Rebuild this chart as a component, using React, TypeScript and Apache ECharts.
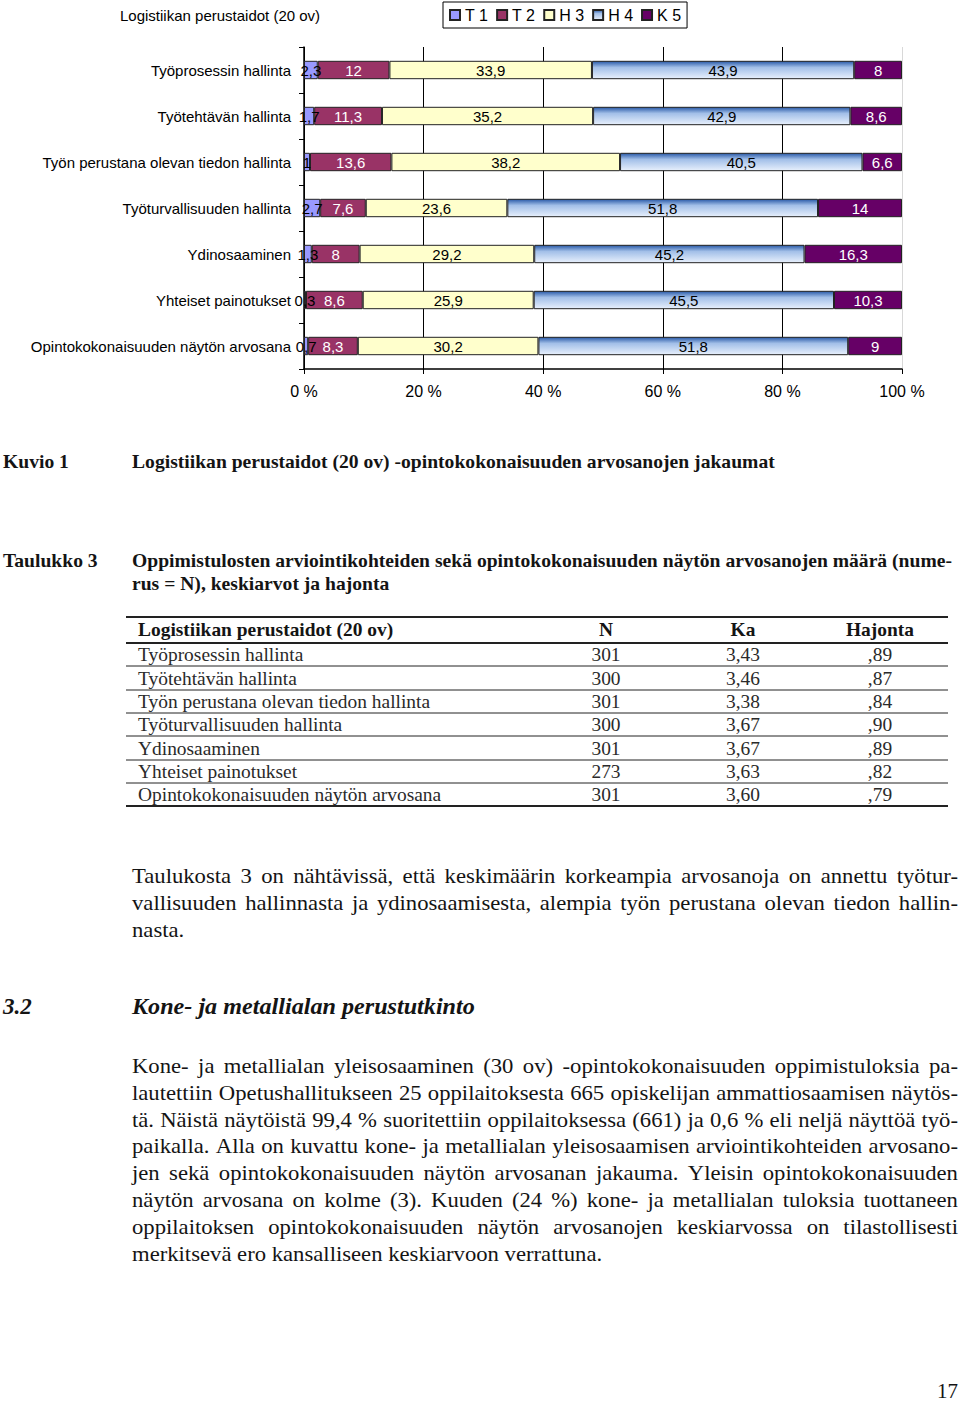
import React, { useEffect, useRef } from "react";
import * as echarts from "echarts";

// ---------- Chart data ----------
const chartTitle = "Logistiikan perustaidot (20 ov)";
const categories = [
  "Työprosessin hallinta",
  "Työtehtävän hallinta",
  "Työn perustana olevan tiedon hallinta",
  "Työturvallisuuden hallinta",
  "Ydinosaaminen",
  "Yhteiset painotukset",
  "Opintokokonaisuuden näytön arvosana",
];
const seriesNames = ["T 1", "T 2", "H 3", "H 4", "K 5"];
const t1 = [2.3, 1.7, 1, 2.7, 1.3, 0.3, 0.7];
const t2 = [12, 11.3, 13.6, 7.6, 8, 8.6, 8.3];
const h3 = [33.9, 35.2, 38.2, 23.6, 29.2, 25.9, 30.2];
const h4 = [43.9, 42.9, 40.5, 51.8, 45.2, 45.5, 51.8];
const k5 = [8, 8.6, 6.6, 14, 16.3, 10.3, 9];

// ---------- Table data ----------
const tableHeader = ["Logistiikan perustaidot (20 ov)", "N", "Ka", "Hajonta"];
const tableN = ["301", "300", "301", "300", "301", "273", "301"];
const tableKa = ["3,43", "3,46", "3,38", "3,67", "3,67", "3,63", "3,60"];
const tableHajonta = [",89", ",87", ",84", ",90", ",89", ",82", ",79"];

// ---------- Document text ----------
const kuvioLabel = "Kuvio 1";
const kuvioText = "Logistiikan perustaidot (20 ov) -opintokokonaisuuden arvosanojen jakaumat";
const taulukkoLabel = "Taulukko 3";
const taulukkoLines = [
  "Oppimistulosten arviointikohteiden sekä opintokokonaisuuden näytön arvosanojen määrä (nume-",
  "rus = N), keskiarvot ja hajonta",
];
const para1Lines = [
  "Taulukosta 3 on nähtävissä, että keskimäärin korkeampia arvosanoja on annettu työtur-",
  "vallisuuden hallinnasta ja ydinosaamisesta, alempia työn perustana olevan tiedon hallin-",
  "nasta.",
];
const sectionNo = "3.2";
const sectionTitle = "Kone- ja metallialan perustutkinto";
const para2Lines = [
  "Kone- ja metallialan yleisosaaminen (30 ov) -opintokokonaisuuden oppimistuloksia pa-",
  "lautettiin Opetushallitukseen 25 oppilaitoksesta 665 opiskelijan ammattiosaamisen näytös-",
  "tä. Näistä näytöistä 99,4 % suoritettiin oppilaitoksessa (661) ja 0,6 % eli neljä näyttöä työ-",
  "paikalla. Alla on kuvattu kone- ja metallialan yleisosaamisen arviointikohteiden arvosano-",
  "jen sekä opintokokonaisuuden näytön arvosanan jakauma. Yleisin opintokokonaisuuden",
  "näytön arvosana on kolme (3). Kuuden (24 %) kone- ja metallialan tuloksia tuottaneen",
  "oppilaitoksen opintokokonaisuuden näytön arvosanojen keskiarvossa on tilastollisesti",
  "merkitsevä ero kansalliseen keskiarvoon verrattuna.",
];
const pageNumber = "17";

const SANS = '"Liberation Sans", Arial, sans-serif';
const SERIF = '"Liberation Serif", "Times New Roman", serif';
const INK = "#141414";

function fmt(v: number) {
  return String(v).replace(".", ",");
}

export default function App() {
  const ref = useRef<HTMLDivElement>(null);

  useEffect(() => {
    if (!ref.current) return;
    const chart = echarts.init(ref.current, undefined, { renderer: "svg" });

    const canvas = document.createElement("canvas");
    const ctx = canvas.getContext("2d")!;
    const measure = (t: string, font: string) => {
      ctx.font = font;
      return ctx.measureText(t).width;
    };

    const textEl = (text: string, x: number, y: number, font: string, align = "left", fill = INK, scaleX = 1) => ({
      type: "text",
      x,
      y,
      scaleX,
      silent: true,
      style: { text, font, fill, align, verticalAlign: "middle" },
    });

    const lineEls = (
      text: string, x0: number, x1: number, y: number, font: string, justify: boolean, s0: number, fill = INK
    ) => {
      if (!justify) return [textEl(text, x0, y, font, "left", fill, s0)];
      const words = text.split(" ");
      const widths = words.map((w) => measure(w, font));
      const sum = widths.reduce((a, b) => a + b, 0);
      const W = x1 - x0;
      const n = words.length;
      let scale = s0;
      let gap = (W - sum * scale) / (n - 1);
      const minGap = 4;
      if (gap < minGap) {
        gap = minGap;
        scale = (W - minGap * (n - 1)) / sum;
      }
      let x = x0;
      return words.map((w, i) => {
        const el = textEl(w, x, y, font, "left", fill, scale);
        x += widths[i] * scale + gap;
        return el;
      });
    };

    const raw = [t1, t2, h3, h4, k5];
    const totals = categories.map((_, i) => raw.reduce((s, arr) => s + arr[i], 0));
    const norm = raw.map((arr) => arr.map((v, i) => (v / totals[i]) * 100));

    const h4Gradient = new echarts.graphic.LinearGradient(0, 0, 0, 1, [
      { offset: 0, color: "#2a5aa8" },
      { offset: 0.35, color: "#a2bfe8" },
      { offset: 1, color: "#e8f0fc" },
    ]);
    const colors: any[] = ["#9999FF", "#993366", "#FFFFCC", h4Gradient, "#660066"];
    const labelColors = ["#000", "#fff", "#000", "#000", "#fff"];

    const elements: any[] = [];
    const bold18 = `bold 18px ${SERIF}`;
    const reg18 = `18px ${SERIF}`;
    const reg21 = `21px ${SERIF}`;
    const capScale = 1.09;
    const tabScale = 1.08;
    const parScale = 1.08;

    // Kuvio caption
    elements.push(textEl(kuvioLabel, 3, 462, bold18, "left", INK, capScale));
    elements.push(textEl(kuvioText, 132, 462, bold18, "left", INK, capScale));

    // Taulukko caption
    elements.push(textEl(taulukkoLabel, 3, 561, bold18, "left", INK, capScale));
    elements.push(...lineEls(taulukkoLines[0], 132, 952, 561, bold18, true, capScale));
    elements.push(...lineEls(taulukkoLines[1], 132, 952, 584, bold18, false, capScale));

    // Table
    const tx0 = 126, tx1 = 948;
    const hLine = (y: number, w: number) => ({
      type: "line",
      silent: true,
      shape: { x1: tx0, y1: y, x2: tx1, y2: y },
      style: { stroke: "#222", lineWidth: w },
    });
    const colN = 606, colKa = 743, colH = 880;
    const rowInk = "#2a2a2a";
    elements.push(hLine(617, 2));
    elements.push(textEl(tableHeader[0], 138, 630, bold18, "left", INK, tabScale));
    elements.push(textEl(tableHeader[1], colN, 630, bold18, "center", INK, tabScale));
    elements.push(textEl(tableHeader[2], colKa, 630, bold18, "center", INK, tabScale));
    elements.push(textEl(tableHeader[3], colH, 630, bold18, "center", INK, tabScale));
    elements.push(hLine(643, 2));
    const rowLines = [643, 666, 690, 713, 736, 760, 783, 806];
    categories.forEach((c, i) => {
      const yc = (rowLines[i] + rowLines[i + 1]) / 2 + 0.5;
      elements.push(textEl(c, 138, yc, reg18, "left", rowInk, tabScale));
      elements.push(textEl(tableN[i], colN, yc, reg18, "center", rowInk, tabScale));
      elements.push(textEl(tableKa[i], colKa, yc, reg18, "center", rowInk, tabScale));
      elements.push(textEl(tableHajonta[i], colH, yc, reg18, "center", rowInk, tabScale));
      if (i < categories.length - 1) elements.push(hLine(rowLines[i + 1], 1));
    });
    elements.push(hLine(806, 2));

    // Paragraph 1
    const p1y = [876, 903, 930];
    para1Lines.forEach((l, i) => {
      elements.push(...lineEls(l, 132, 958, p1y[i], reg21, i < para1Lines.length - 1, parScale));
    });

    // Section heading
    const bi23 = `italic bold 23px ${SERIF}`;
    elements.push(textEl(sectionNo, 3, 1006, bi23, "left", INK, 1.0));
    elements.push(textEl(sectionTitle, 132, 1006, bi23, "left", INK, 1.05));

    // Paragraph 2
    const p2y0 = 1066, p2step = 26.9;
    para2Lines.forEach((l, i) => {
      elements.push(...lineEls(l, 132, 958, p2y0 + i * p2step, reg21, i < para2Lines.length - 1, parScale));
    });

    // Page number
    elements.push(textEl(pageNumber, 958, 1391, `20px ${SERIF}`, "right", INK, 1.05));

    const option: any = {
      animation: false,
      backgroundColor: "#fff",
      title: {
        text: chartTitle,
        left: 120,
        top: 8,
        padding: 0,
        textStyle: { fontSize: 15, fontWeight: "normal", color: "#000", fontFamily: SANS },
      },
      legend: {
        data: seriesNames,
        left: 443,
        top: 2,
        icon: "rect",
        itemWidth: 10,
        itemHeight: 10,
        itemGap: 8,
        padding: [5, 6],
        borderColor: "#000",
        borderWidth: 1,
        textStyle: { fontSize: 16, color: "#000", fontFamily: SANS },
      },
      grid: { left: 304, top: 47, width: 598, height: 322, containLabel: false },
      xAxis: {
        type: "value",
        min: 0,
        max: 100,
        interval: 20,
        axisLabel: { formatter: "{value} %", fontSize: 16, color: "#000", fontFamily: SANS, margin: 14 },
        axisLine: { show: true, lineStyle: { color: "#000", width: 1.5 } },
        axisTick: { show: true, length: 5, lineStyle: { color: "#000" } },
        splitLine: {
          show: true,
          lineStyle: { color: ["#000", "#000", "#000", "#000", "#000", "#d8d8d8"], width: 1 },
        },
      },
      yAxis: {
        type: "category",
        data: categories,
        inverse: true,
        axisLine: { show: true, lineStyle: { color: "#000", width: 1.5 } },
        axisTick: { show: true, length: 5, lineStyle: { color: "#000" } },
        axisLabel: { color: "#000", fontSize: 15, fontFamily: SANS, margin: 13 },
        splitLine: { show: false },
      },
      series: seriesNames.map((name, si) => ({
        name,
        type: "bar",
        stack: "total",
        barWidth: "40%",
        data: norm[si],
        itemStyle: { color: colors[si], borderColor: "#222", borderWidth: 1 },
        label: {
          show: true,
          position: "inside",
          formatter: (p: any) => fmt(raw[si][p.dataIndex]),
          color: labelColors[si],
          fontSize: 15,
          fontFamily: SANS,
        },
      })),
      graphic: { elements },
    };

    chart.setOption(option);
    return () => chart.dispose();
  }, []);

  return (
    <div
      ref={ref}
      style={{ position: "absolute", left: 0, top: 0, width: 960, height: 1402, background: "#fff" }}
    />
  );
}
